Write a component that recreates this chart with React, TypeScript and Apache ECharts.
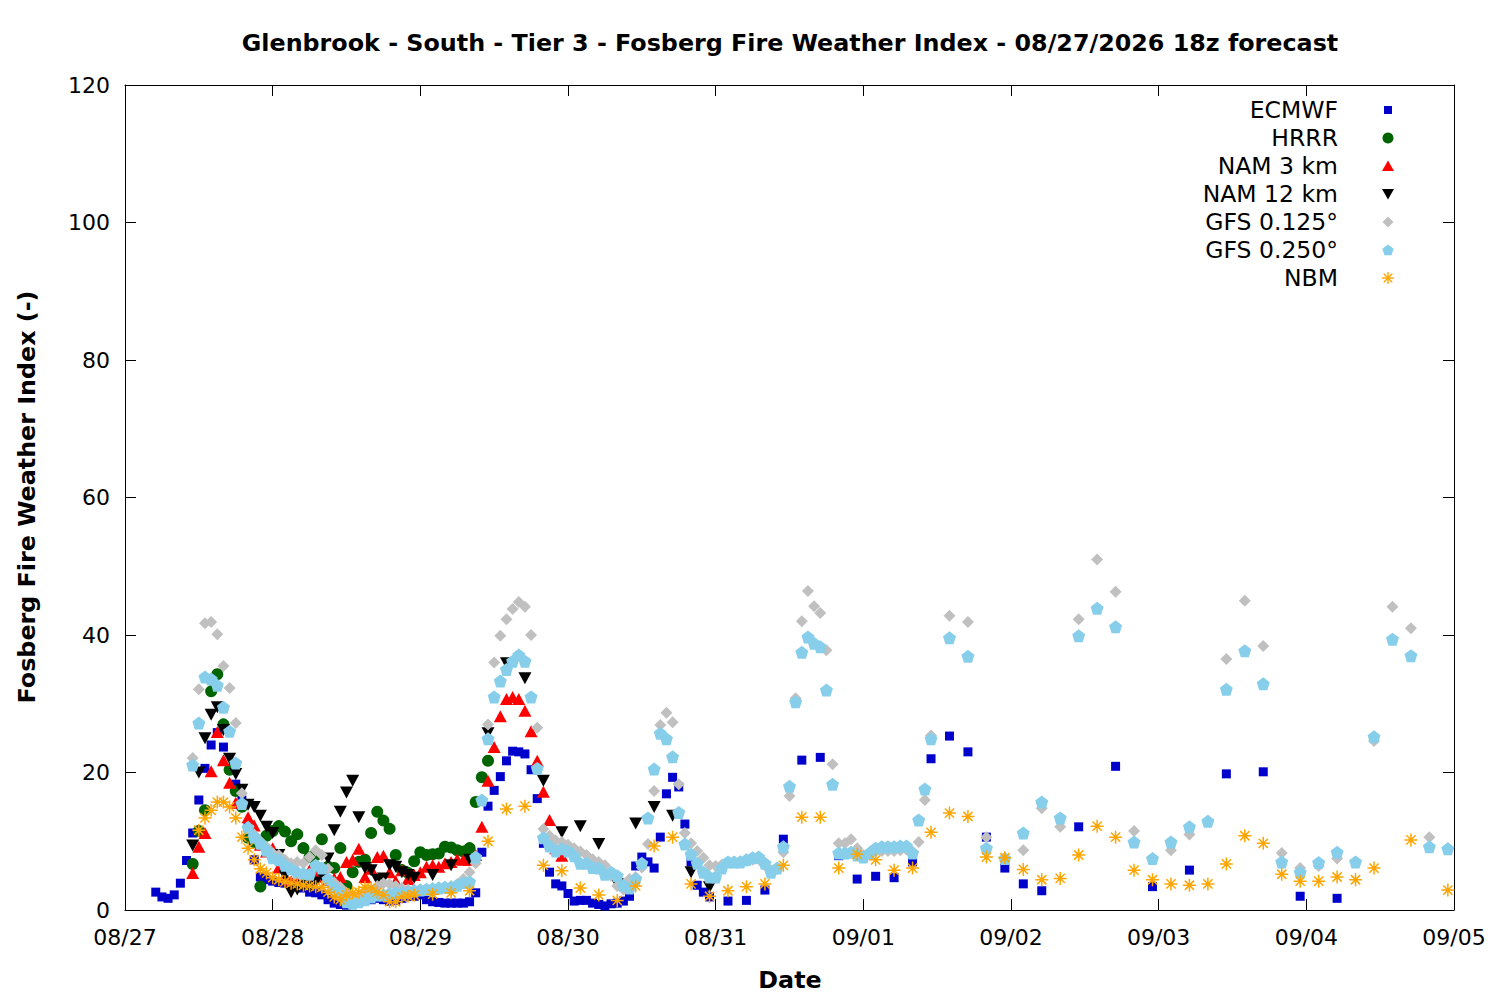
import React, { useEffect, useRef } from "react";
import * as echarts from "echarts";

const FONT = "DejaVu Sans";

const dateLabels = ["08/27", "08/28", "08/29", "08/30", "08/31", "09/01", "09/02", "09/03", "09/04", "09/05"];
const legendNames = ["ECMWF", "HRRR", "NAM 3 km", "NAM 12 km", "GFS 0.125°", "GFS 0.250°", "NBM"];
const colors = ["#0000cd", "#006400", "#ff0000", "#000000", "#c0c0c0", "#87ceeb", "#ffa500"];

// hours since 08/27 00 local
function hoursRange(start: number, end: number, step: number): number[] {
  const out: number[] = [];
  for (let h = start; h <= end; h += step) out.push(h);
  return out;
}

// ECMWF: hourly h5..h95, 3-hourly h98..h149, 6-hourly h155..h197
const ecmwfHourly = [
  2.6, 1.9, 1.7, 2.2, 3.9, 7.2, 11.2, 16.0, 20.6, 24.0,
  25.8, 23.7, 20.5, 18.3, 16.0, 12.0, 7.3, 4.8, 4.4, 4.2,
  4.0, 3.9, 3.7, 3.5, 3.2, 2.6, 2.5, 2.2, 1.5, 1.0,
  0.8, 0.7, 1.0, 1.3, 1.5, 1.5, 1.7, 1.5, 1.3, 1.4,
  1.7, 2.0, 2.0, 2.2, 1.5, 1.2, 1.1, 1.0, 1.0, 1.0,
  1.0, 1.2, 2.5, 8.4, 15.1, 17.4, 19.4, 21.7, 23.1, 23.0,
  22.7, 20.4, 16.2, 9.7, 5.5, 3.8, 3.5, 2.4, 1.3, 1.4,
  1.4, 1.0, 0.8, 0.6, 0.9, 1.0, 1.3, 2.0, 6.4, 7.7,
  7.0, 6.1, 10.6, 16.9, 19.3, 17.9, 12.5, 7.0, 3.6, 2.6,
  1.9,
];
const ecmwf3h = [1.3, 1.4, 2.9, 10.3, 21.8, 22.2, 7.9, 4.5, 4.9, 4.7, 7.0, 22.0, 25.3, 23.0, 10.6, 6.1, 3.8, 2.8];
const ecmwf6h = [12.1, 20.9, 3.4, 5.8, 19.8, 20.1, 2.0, 1.7];

// HRRR: hourly h11..h59
const hrrrHourly = [
  6.7, 11.5, 14.5, 31.8, 34.3, 27.0, 20.4, 17.3, 15.0, 10.5,
  9.9, 3.4, 10.8, 11.5, 12.2, 11.4, 10.0, 11.0, 9.0, 7.7,
  8.0, 10.3, 6.3, 6.1, 9.0, 3.5, 5.5, 7.0, 7.3, 11.2,
  14.3, 13.0, 11.8, 8.0, 5.8, 5.4, 7.1, 8.4, 8.0, 8.1,
  8.2, 9.2, 9.1, 8.7, 8.5, 9.0, 15.7, 19.3, 21.7,
];

// NAM 3 km: hourly h11..h71
const nam3Hourly = [
  5.4, 9.2, 11.2, 20.2, 25.9, 21.8, 18.5, 15.6, 15.6, 13.5,
  12.3, 9.5, 8.5, 9.0, 6.2, 5.0, 4.2, 4.0, 4.0, 5.8,
  4.8, 5.5, 4.4, 4.6, 4.8, 7.0, 7.3, 8.9, 4.8, 6.0,
  7.7, 7.9, 5.5, 4.2, 5.8, 4.5, 5.1, 5.5, 6.3, 6.5,
  6.3, 6.8, 7.0, 7.4, 7.3, 7.3, 8.0, 12.1, 18.8, 23.7,
  28.2, 30.7, 31.0, 30.7, 29.0, 26.0, 21.7, 17.2, 13.1, 9.0,
  7.9,
];

// NAM 12 km: hourly h11..h47, 3-hourly h50..h95
const nam12Hourly = [
  9.4, 20.0, 25.0, 28.4, 29.5, 26.2, 22.0, 19.8, 17.5, 15.3,
  15.0, 13.7, 12.1, 11.2, 8.0, 5.0, 2.6, 3.0, 3.5, 3.3,
  4.0, 5.0, 7.5, 11.6, 14.3, 17.1, 18.8, 13.5, 6.1, 5.8,
  4.4, 4.6, 6.5, 6.3, 5.5, 5.1, 4.7,
];
const nam12ThreeHourly = [5.1, 6.5, 7.3, 25.7, 35.9, 33.7, 18.8, 11.3, 12.2, 9.6, 3.8, 12.6, 15.0, 13.7, 5.5, 3.3];

// GFS 0.125: hourly h11..h131, 3-hourly h134..h215
const gfs0125Hourly = [
  22.1, 32.1, 41.7, 41.9, 40.1, 35.5, 32.3, 27.2, 17.0, 12.1,
  11.0, 10.0, 9.2, 8.3, 8.0, 7.3, 6.8, 7.0, 6.8, 7.7,
  8.7, 8.0, 6.0, 4.0, 3.3, 2.5, 2.0, 2.0, 2.5, 3.0,
  3.5, 3.9, 3.8, 3.5, 3.2, 3.0, 3.0, 3.0, 3.1, 3.2,
  3.3, 3.4, 3.5, 3.8, 4.5, 5.5, 6.8, 16.0, 27.0, 36.0,
  39.9, 42.3, 43.8, 44.8, 44.1, 40.0, 26.5, 11.8, 10.8, 10.1,
  9.9, 9.5, 9.0, 8.5, 8.0, 7.4, 7.0, 6.5, 5.0, 3.5,
  3.0, 4.5, 4.8, 6.2, 9.6, 17.3, 26.9, 28.7, 27.3, 18.3,
  11.2, 9.7, 8.6, 7.6, 6.5, 6.4, 6.6, 7.0, 7.0, 7.1,
  7.2, 7.3, 7.4, 6.5, 5.8, 6.0, 8.4, 16.6, 30.8, 42.0,
  46.4, 44.2, 43.2, 37.8, 21.2, 9.7, 9.7, 10.3, 9.0, 8.0,
  8.2, 8.5, 8.6, 8.6, 8.6, 8.7, 8.8, 8.5, 9.9, 16.0, 25.4,
];
const gfs0125ThreeHourly = [
  42.8, 41.9, 10.6, 7.6, 8.7, 14.8, 12.1, 42.3, 51.0, 46.3,
  11.5, 7.5, 8.7, 11.0, 13.0, 36.5, 45.0, 38.4, 8.3, 6.1,
  6.4, 7.5, 7.0, 24.6, 44.1, 41.0, 10.6, 9.0,
];

// GFS 0.250: hourly h11..h131, 3-hourly h134..h215
const gfs0250Hourly = [
  21.1, 27.2, 33.9, 33.6, 32.7, 29.5, 26.0, 21.4, 15.5, 12.0,
  10.6, 9.7, 8.7, 7.6, 7.3, 6.5, 6.0, 5.5, 5.3, 5.2,
  6.5, 6.1, 4.5, 3.3, 2.6, 1.2, 1.0, 1.2, 1.5, 1.9,
  2.2, 2.2, 2.4, 2.5, 2.6, 2.6, 2.8, 2.9, 3.0, 3.1,
  3.2, 3.3, 3.3, 3.6, 4.0, 4.1, 7.7, 16.0, 24.9, 31.0,
  33.3, 35.0, 36.2, 37.1, 36.2, 31.0, 20.6, 10.5, 9.3, 8.6,
  8.9, 8.6, 7.9, 6.8, 6.8, 6.2, 6.1, 5.2, 5.5, 5.0,
  3.6, 3.2, 4.5, 6.8, 13.4, 20.5, 25.7, 24.9, 22.3, 14.2,
  9.6, 8.1, 6.8, 5.5, 4.8, 4.8, 6.1, 7.0, 7.0, 7.0,
  7.3, 7.6, 7.7, 6.8, 5.5, 6.1, 9.2, 18.0, 30.3, 37.5,
  39.7, 38.8, 38.3, 32.0, 18.3, 8.3, 8.3, 8.4, 8.0, 7.7,
  8.3, 9.0, 9.2, 9.2, 9.2, 9.3, 9.3, 8.3, 13.1, 17.6, 24.9,
];
const gfs0250ThreeHourly = [
  39.6, 36.9, 9.0, 7.5, 11.2, 15.7, 13.4, 39.9, 43.9, 41.2,
  9.9, 7.5, 9.9, 12.1, 12.9, 32.1, 37.7, 32.9, 7.0, 5.5,
  6.9, 8.4, 7.0, 25.2, 39.4, 37.0, 9.2, 8.9,
];

// NBM: hourly h12..h47, 3-hourly h50..h203, 6-hourly h209..h215
const nbmHourly = [
  11.6, 13.4, 14.5, 15.7, 15.7, 15.0, 13.4, 10.6, 9.0, 7.3,
  6.0, 5.4, 4.7, 4.4, 4.1, 3.9, 3.8, 3.6, 3.5, 3.4,
  3.3, 2.6, 1.9, 1.5, 2.2, 2.5, 2.6, 3.3, 3.2, 2.6,
  2.2, 1.2, 1.2, 1.9, 2.0, 2.2,
];
const nbmThreeHourly = [
  2.3, 2.5, 2.8, 10.0, 14.7, 15.1, 6.5, 5.7, 3.2, 2.2,
  1.4, 3.5, 9.3, 10.6, 3.8, 2.0, 2.8, 3.4, 3.8, 6.5,
  13.5, 13.5, 6.1, 8.1, 7.3, 5.8, 6.1, 11.3, 14.1, 13.6,
  7.7, 7.6, 5.9, 4.4, 4.6, 8.0, 12.2, 10.6, 5.8, 4.4,
  3.8, 3.6, 3.8, 6.7, 10.8, 9.7, 5.2, 4.2, 4.2, 4.8,
  4.4, 6.1,
];
const nbmSixHourly = [10.2, 2.9];

function pairs(times: number[], values: number[]) {
  return times.map((t, i) => [t, values[i]]);
}

const ecmwfData = pairs(
  [...hoursRange(5, 95, 1), ...hoursRange(98, 149, 3), ...hoursRange(155, 197, 6)],
  [...ecmwfHourly, ...ecmwf3h, ...ecmwf6h]
);
const hrrrData = pairs(hoursRange(11, 59, 1), hrrrHourly);
const nam3Data = pairs(hoursRange(11, 71, 1), nam3Hourly);
const nam12Data = pairs([...hoursRange(11, 47, 1), ...hoursRange(50, 95, 3)], [...nam12Hourly, ...nam12ThreeHourly]);
const gfs0125Data = pairs([...hoursRange(11, 131, 1), ...hoursRange(134, 215, 3)], [...gfs0125Hourly, ...gfs0125ThreeHourly]);
const gfs0250Data = pairs([...hoursRange(11, 131, 1), ...hoursRange(134, 215, 3)], [...gfs0250Hourly, ...gfs0250ThreeHourly]);
const nbmData = pairs(
  [...hoursRange(12, 47, 1), ...hoursRange(50, 203, 3), ...hoursRange(209, 215, 6)],
  [...nbmHourly, ...nbmThreeHourly, ...nbmSixHourly]
);

const PENTAGON = "path://M0,-1L0.951,-0.309L0.588,0.809L-0.588,0.809L-0.951,-0.309Z";
const ASTERISK = "path://M0,-1L0,1M-1,0L1,0M-0.7071,-0.7071L0.7071,0.7071M-0.7071,0.7071L0.7071,-0.7071";

const TITLE_SIZE = 23.8;
const LEGEND_SIZE = 23.5;

function buildLegend() {
  const els: any[] = [];
  const textRight = 1338;
  const mx = 1388;
  const y0 = 110;
  const dy = 28;
  legendNames.forEach((name, i) => {
    const cy = y0 + i * dy;
    els.push({
      type: "text",
      x: textRight,
      y: cy,
      style: { text: name, fontSize: LEGEND_SIZE, fontFamily: FONT, fill: "#000", align: "right", verticalAlign: "middle" },
    });
    const c = colors[i];
    if (i === 0) {
      els.push({ type: "rect", shape: { x: mx - 4, y: cy - 4, width: 8, height: 8 }, style: { fill: c } });
    } else if (i === 1) {
      els.push({ type: "circle", shape: { cx: mx, cy, r: 5.5 }, style: { fill: c } });
    } else if (i === 2) {
      els.push({ type: "polygon", shape: { points: [[mx, cy - 5.5], [mx + 6, cy + 5], [mx - 6, cy + 5]] }, style: { fill: c } });
    } else if (i === 3) {
      els.push({ type: "polygon", shape: { points: [[mx, cy + 5.5], [mx + 6, cy - 5], [mx - 6, cy - 5]] }, style: { fill: c } });
    } else if (i === 4) {
      els.push({ type: "polygon", shape: { points: [[mx, cy - 5.5], [mx + 5.5, cy], [mx, cy + 5.5], [mx - 5.5, cy]] }, style: { fill: c } });
    } else if (i === 5) {
      const pts: number[][] = [];
      for (let k = 0; k < 5; k++) {
        const a = -Math.PI / 2 + (k * 2 * Math.PI) / 5;
        pts.push([mx + 6 * Math.cos(a), cy + 6 * Math.sin(a) + 0.5]);
      }
      els.push({ type: "polygon", shape: { points: pts }, style: { fill: c } });
    } else {
      for (let k = 0; k < 4; k++) {
        const a = (k * Math.PI) / 4;
        els.push({
          type: "line",
          shape: { x1: mx - 6 * Math.cos(a), y1: cy - 6 * Math.sin(a), x2: mx + 6 * Math.cos(a), y2: cy + 6 * Math.sin(a) },
          style: { stroke: c, lineWidth: 1.4 },
        });
      }
    }
  });
  return els;
}

const axisLineStyle = { show: true, onZero: false, lineStyle: { color: "#000", width: 1 } };
const tickStyle = { show: true, inside: true, length: 11, lineStyle: { color: "#000", width: 1 } };

function makeOption() {
  const xBase = { type: "value", min: 0, max: 216, interval: 24, splitLine: { show: false }, axisLine: axisLineStyle, axisTick: tickStyle };
  const yBase = { type: "value", min: 0, max: 120, interval: 20, splitLine: { show: false }, axisLine: axisLineStyle, axisTick: tickStyle };
  const scatterBase = { type: "scatter", xAxisIndex: 0, yAxisIndex: 0 };
  return {
    animation: false,
    backgroundColor: "#ffffff",
    textStyle: { fontFamily: FONT },
    grid: { left: 125, right: 46, top: 85, bottom: 90, containLabel: false },
    xAxis: [
      {
        ...xBase,
        position: "bottom",
        axisLabel: {
          color: "#000",
          fontSize: 22,
          fontFamily: FONT,
          margin: 16,
          formatter: (v: number) => dateLabels[Math.round(v / 24)] ?? "",
        },
      },
      { ...xBase, position: "top", axisLabel: { show: false } },
    ],
    yAxis: [
      { ...yBase, position: "left", axisLabel: { color: "#000", fontSize: 22, fontFamily: FONT, margin: 15 } },
      { ...yBase, position: "right", axisLabel: { show: false } },
    ],
    graphic: [
      {
        type: "text",
        x: 790,
        y: 43,
        style: {
          text: "Glenbrook - South - Tier 3 - Fosberg Fire Weather Index - 08/27/2026 18z forecast",
          fontSize: TITLE_SIZE,
          fontWeight: "bold",
          fontFamily: FONT,
          fill: "#000",
          align: "center",
          verticalAlign: "middle",
        },
      },
      {
        type: "text",
        x: 27,
        y: 497,
        rotation: Math.PI / 2,
        style: {
          text: "Fosberg Fire Weather Index (-)",
          fontSize: TITLE_SIZE,
          fontWeight: "bold",
          fontFamily: FONT,
          fill: "#000",
          align: "center",
          verticalAlign: "middle",
        },
      },
      {
        type: "text",
        x: 790,
        y: 980,
        style: { text: "Date", fontSize: TITLE_SIZE, fontWeight: "bold", fontFamily: FONT, fill: "#000", align: "center", verticalAlign: "middle" },
      },
      ...buildLegend(),
    ],
    series: [
      { ...scatterBase, name: legendNames[0], data: ecmwfData, symbol: "rect", symbolSize: 9, itemStyle: { color: colors[0], opacity: 1 } },
      { ...scatterBase, name: legendNames[1], data: hrrrData, symbol: "circle", symbolSize: 12, itemStyle: { color: colors[1], opacity: 1 } },
      { ...scatterBase, name: legendNames[2], data: nam3Data, symbol: "triangle", symbolSize: [13, 12], itemStyle: { color: colors[2], opacity: 1 } },
      { ...scatterBase, name: legendNames[3], data: nam12Data, symbol: "triangle", symbolRotate: 180, symbolSize: [13, 12], itemStyle: { color: colors[3], opacity: 1 } },
      { ...scatterBase, name: legendNames[4], data: gfs0125Data, symbol: "diamond", symbolSize: 12, itemStyle: { color: colors[4], opacity: 1 } },
      { ...scatterBase, name: legendNames[5], data: gfs0250Data, symbol: PENTAGON, symbolSize: 13, itemStyle: { color: colors[5], opacity: 1 } },
      {
        ...scatterBase,
        name: legendNames[6],
        data: nbmData,
        symbol: ASTERISK,
        symbolSize: 13,
        itemStyle: { color: "rgba(0,0,0,0)", borderColor: colors[6], borderWidth: 1.5, opacity: 1 },
      },
    ],
  };
}

export default function App() {
  const ref = useRef<HTMLDivElement>(null);
  useEffect(() => {
    if (!ref.current) return;
    const chart = echarts.init(ref.current, null, { renderer: "svg" });
    chart.setOption(makeOption() as any);
    return () => chart.dispose();
  }, []);
  return (
    <div
      ref={ref}
      style={{ position: "fixed", left: 0, top: 0, width: 1500, height: 1000, background: "#ffffff" }}
    />
  );
}
